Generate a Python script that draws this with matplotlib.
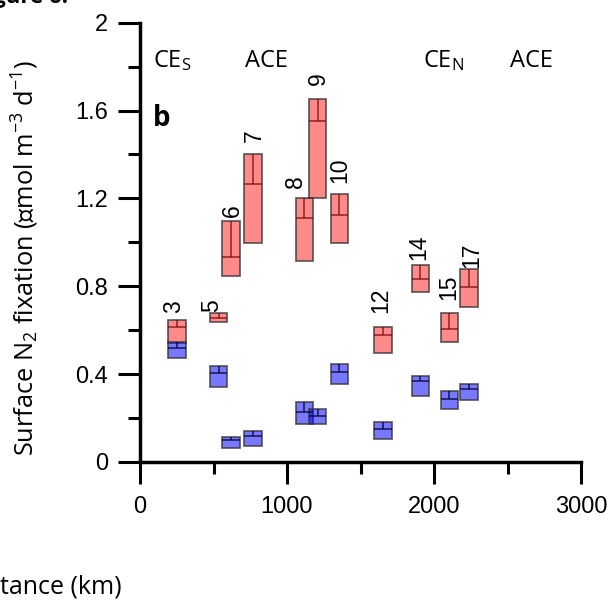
import matplotlib
matplotlib.use("Agg")
import matplotlib.pyplot as plt
from matplotlib.ticker import MultipleLocator

plt.rcParams['mathtext.fontset'] = 'custom'
plt.rcParams['mathtext.rm'] = 'Open Sans'
plt.rcParams['mathtext.it'] = 'Open Sans:italic'
plt.rcParams['mathtext.bf'] = 'Open Sans:bold'

# ---------------- data ----------------
stations = ["3", "5", "6", "7", "8", "9", "10", "12", "14", "15", "17"]
dist_km = [250, 535, 620, 769, 1118, 1208, 1357, 1655, 1907, 2105, 2236]

red_low = [0.540, 0.636, 0.848, 0.998, 0.917, 1.203, 0.999, 0.495, 0.775, 0.545, 0.707]
red_mid = [0.613, 0.657, 0.933, 1.264, 1.109, 1.552, 1.123, 0.577, 0.835, 0.607, 0.798]
red_high = [0.646, 0.677, 1.097, 1.401, 1.200, 1.651, 1.219, 0.615, 0.897, 0.677, 0.877]

blue_low = [0.475, 0.343, 0.062, 0.074, 0.173, 0.173, 0.355, 0.103, 0.302, 0.241, 0.282]
blue_mid = [0.520, 0.407, 0.100, 0.118, 0.229, 0.209, 0.408, 0.150, 0.369, 0.287, 0.331]
blue_high = [0.545, 0.437, 0.112, 0.143, 0.275, 0.243, 0.445, 0.182, 0.393, 0.323, 0.354]

label_x = [227, 488, 626, 776, 1061, 1211, 1361, 1639, 1898, 2100, 2255]
label_y = [0.678, 0.684, 1.114, 1.458, 1.246, 1.716, 1.270, 0.680, 0.920, 0.738, 0.883]

regions = [r"CE$_\mathrm{S}$", "ACE", r"CE$_\mathrm{N}$", "ACE"]
region_x = [88, 857, 1923, 2660]
region_ha = ["left", "center", "left", "center"]

box_w = 120

# ---------------- figure ----------------
fig = plt.figure(figsize=(6.13, 6.0), dpi=100)
ax = fig.add_axes([140/613, 1-462/600, 441/613, (462-22.7)/600])

def draw_boxes(low, mid, high, face, line):
    heights = [h - l for l, h in zip(low, high)]
    ax.bar(dist_km, heights, bottom=low, width=box_w, color=face,
           edgecolor=(0.2, 0.2, 0.2, 0.75), linewidth=1.3, zorder=3)
    ax.hlines(mid, [d - box_w/2 for d in dist_km], [d + box_w/2 for d in dist_km],
              colors=line, linewidth=1.2, zorder=4)
    ax.vlines(dist_km, mid, high, colors=line, linewidth=1.2, zorder=4)

draw_boxes(red_low, red_mid, red_high, (1.0, 0.0, 0.0, 0.46), (0.45, 0.0, 0.0, 0.7))
draw_boxes(blue_low, blue_mid, blue_high, (0.0, 0.0, 1.0, 0.53), (0.0, 0.0, 0.2, 0.75))

for s, x, y in zip(stations, label_x, label_y):
    ax.text(x, y, s, rotation=90, ha='center', va='bottom',
            fontsize=16.5, family='Liberation Sans', zorder=5)

for r, x, ha in zip(regions, region_x, region_ha):
    ax.text(x, 1.80, r, ha=ha, va='baseline', fontsize=17, family='Open Sans')

ax.text(88, 1.53, "b", ha='left', va='baseline', fontsize=20,
        family='Open Sans', fontweight='bold')

ax.set_xlim(0, 3000)
ax.set_ylim(0, 2)
ax.spines['top'].set_visible(False)
ax.spines['right'].set_visible(False)
for sp in ['left', 'bottom']:
    ax.spines[sp].set_linewidth(2.5)

ax.xaxis.set_major_locator(MultipleLocator(1000))
ax.xaxis.set_minor_locator(MultipleLocator(500))
ax.yaxis.set_minor_locator(MultipleLocator(0.2))
ax.set_yticks([0, 0.4, 0.8, 1.2, 1.6, 2.0])
ax.set_yticklabels(["0", "0.4", "0.8", "1.2", "1.6", "2"])
ax.tick_params(which='major', length=15.8, width=2.2, labelsize=17)
ax.tick_params(which='minor', length=8.3, width=2.2)
ax.tick_params(axis='y', which='major', pad=7)
ax.tick_params(axis='x', which='major', pad=9)
for lab in ax.get_xticklabels() + ax.get_yticklabels():
    lab.set_family('Liberation Sans')

fig.text(25/613, 1-257.5/600,
         r"Surface N$_2$ fixation (∝mol m$^{-3}$ d$^{-1}$)",
         rotation=90, ha='center', va='center', fontsize=18.3,
         family=['Open Sans', 'DejaVu Sans'])

fig.text(122/613, 1-593/600, "tance (km)", ha='right', va='baseline',
         fontsize=18, family='Open Sans')

fig.text(68/613, 1-3/600, "Figure 6.", ha='right', va='baseline',
         fontsize=16, family='Open Sans', fontweight='bold')

fig.savefig("out.png", dpi=100)
